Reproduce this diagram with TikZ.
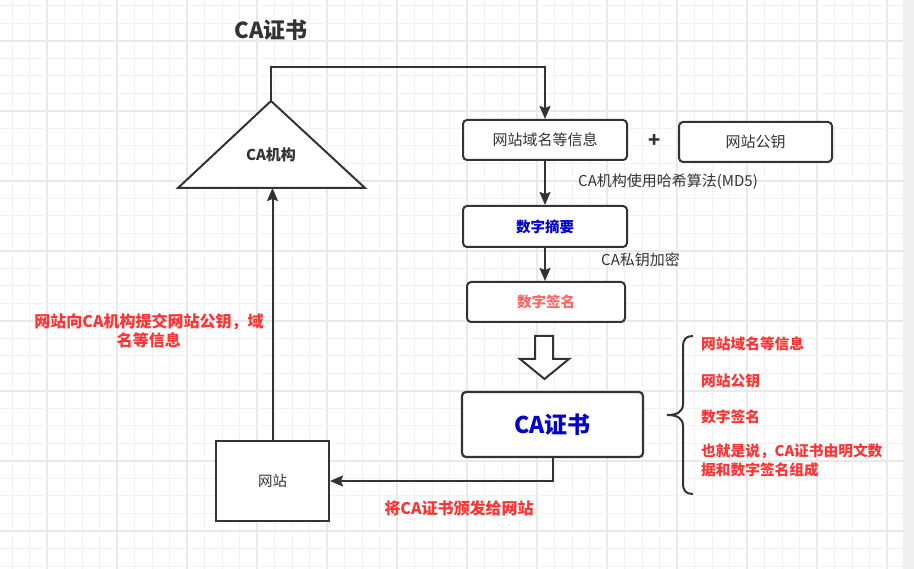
\documentclass[tikz,border=0pt]{standalone}
\usepackage{fontspec}
\setmainfont{Noto Sans CJK SC}
\usetikzlibrary{arrows.meta}
\definecolor{ink}{HTML}{333333}
\definecolor{gridminor}{HTML}{F2F2F2}
\definecolor{gridmajor}{HTML}{E9E9E9}
\definecolor{sidebar}{HTML}{EFEFEF}
\definecolor{blu}{HTML}{0000CC}
\definecolor{rd}{HTML}{FF3333}
\definecolor{lrd}{HTML}{FF6666}
\tikzset{
  conn/.style={draw=ink,line width=2pt},
  arr/.style={conn,-{Stealth[length=13pt,width=11pt,inset=2pt]}},
  rbox/.style={draw=ink,line width=2pt,rounded corners=4pt,fill=white,inner sep=0pt},
  txt/.style={text=ink,font=\fontsize{15}{18}\selectfont,inner sep=0pt},
  redtxt/.style={text=rd,font=\bfseries\fontsize{14.7}{19}\selectfont,inner sep=0pt},
}
\begin{document}
\begin{tikzpicture}[x=1pt,y=-1pt]
\useasboundingbox (0,0) rectangle (914,569);
\fill[white] (0,0) rectangle (914,569);
% grid
\foreach \k in {0,...,51}{
  \pgfmathsetmacro\gx{12+17.5*\k}
  \pgfmathtruncatemacro\m{mod(\k,4)}
  \ifnum\m=2 \draw[gridmajor,line width=1.6pt] (\gx,0) -- (\gx,569);
  \else \draw[gridminor,line width=1pt] (\gx,0) -- (\gx,569); \fi
}
\foreach \k in {0,...,32}{
  \pgfmathsetmacro\gy{6+17.5*\k}
  \pgfmathtruncatemacro\m{mod(\k,4)}
  \ifnum\m=2 \draw[gridmajor,line width=1.6pt] (0,\gy) -- (903,\gy);
  \else \draw[gridminor,line width=1pt] (0,\gy) -- (903,\gy); \fi
}
\fill[sidebar] (903,0) rectangle (914,569);

% title
\node[text=ink,font=\bfseries\fontsize{22}{26}\selectfont,inner sep=0pt] (title) at (271,30) {CA证书};

% triangle
\coordinate (triApex) at (271,101);
\coordinate (triL) at (178,188);
\coordinate (triR) at (365,188);
\coordinate (triBase) at (271,188);
\draw[draw=ink,line width=2pt,fill=white,line join=miter] (triApex) -- (triR) -- (triL) -- cycle;
\node[txt,font=\bfseries\fontsize{15}{18}\selectfont] (calabel) at (271,155) {CA机构};

% boxes
\node[rbox,minimum width=164pt,minimum height=40pt] (box1) at (545,140) {};
\node[txt] (box1t) at (box1) {网站域名等信息};
\node[text=ink,font=\bfseries\fontsize{20}{24}\selectfont,inner sep=0pt] (plus) at (655,141) {+};
\node[rbox,minimum width=153pt,minimum height=40pt] (box2) at (755.5,142) {};
\node[txt] (box2t) at (box2) {网站公钥};
\node[rbox,minimum width=164pt,minimum height=41pt] (box3) at (545,226.5) {};
\node[txt,text=blu,font=\bfseries\fontsize{14.5}{17}\selectfont] (box3t) at (box3) {数字摘要};
\node[rbox,minimum width=158pt,minimum height=40pt] (box4) at (546,302) {};
\node[txt,text=lrd,font=\bfseries\fontsize{14.5}{17}\selectfont] (box4t) at (box4) {数字签名};
\node[rbox,line width=2.2pt,minimum width=181pt,minimum height=65pt] (cabox) at (552.5,424.5) {};
\node[txt,text=blu,font=\bfseries\fontsize{23}{27}\selectfont] (caboxt) at (cabox) {CA证书};
\node[draw=ink,line width=2pt,fill=white,minimum width=113pt,minimum height=80pt,inner sep=0pt] (web) at (272.5,481) {};
\node[txt,font=\fontsize{14.5}{17}\selectfont] (webt) at (web) {网站};

% edge labels
\node[txt,anchor=west] (md5) at (578,182) {CA机构使用哈希算法(MD5)};
\node[txt,anchor=west] (enc) at (601,260) {CA私钥加密};
\node[redtxt,font=\bfseries\fontsize{16}{18.5}\selectfont,align=center] (submit) at (149,331) {网站向CA机构提交网站公钥，域\\名等信息};
\node[redtxt,font=\bfseries\fontsize{16}{19}\selectfont] (issue) at (459,508) {将CA证书颁发给网站};

% connectors
\coordinate (topbend) at (271,67);
\draw[arr] (triApex) -- (topbend) -| (box1.north);
\draw[arr] (box1.south) -- (box3.north);
\draw[arr] (box3.south) -- (box3.south |- box4.north);
\draw[arr] (cabox.south) |- (web.east);
\draw[arr] (web.north) -- (web.north |- triBase);

% hollow block arrow
\draw[draw=ink,line width=2pt,fill=white,line join=miter] (535,336) -- (553,336) -- (553,359) -- (569,359) -- (544.5,379) -- (520,359) -- (535,359) -- cycle;

% brace
\draw[draw=ink,line width=2pt] (693,336) .. controls (686,336) and (683,339) .. (683,347) -- (683,404) .. controls (683,412) and (677,415) .. (667,415) .. controls (677,415) and (683,418) .. (683,426) -- (683,483) .. controls (683,491) and (686,494) .. (693,494);

% list
\node[redtxt,anchor=west] (l1) at (701,344) {网站域名等信息};
\node[redtxt,anchor=west] (l2) at (701,381) {网站公钥};
\node[redtxt,anchor=west] (l3) at (701,417) {数字签名};
\node[redtxt,anchor=north west,align=left] (l4) at (701,443.5) {也就是说，CA证书由明文数\\据和数字签名组成};
\end{tikzpicture}
\end{document}
